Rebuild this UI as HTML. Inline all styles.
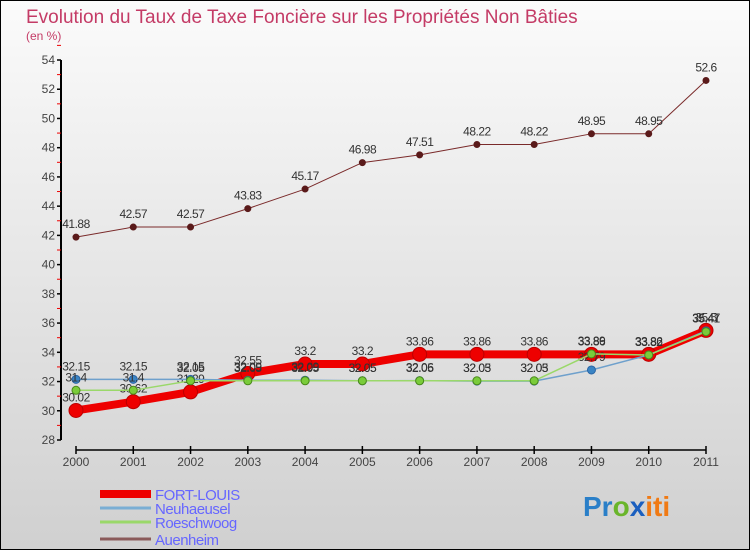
<!DOCTYPE html>
<html><head><meta charset="utf-8"><style>
html,body{margin:0;padding:0;}
body{width:750px;height:550px;overflow:hidden;font-family:"Liberation Sans",sans-serif;}
</style></head><body>
<svg id="chart" width="750" height="550" xmlns="http://www.w3.org/2000/svg">
<defs><linearGradient id="bg" x1="0" y1="0" x2="0" y2="1"><stop offset="0" stop-color="#fbfbfb"/><stop offset="1" stop-color="#d0d0d0"/></linearGradient></defs>
<rect x="0.5" y="0.5" width="749" height="549" fill="url(#bg)" stroke="#000"/>
<text x="26" y="23" font-size="19" fill="#c43b66">Evolution du Taux de Taxe Foncière sur les Propriétés Non Bâties</text>
<text x="26" y="40" font-size="12" fill="#c43b66">(en %)</text>
<g id="axes"></g><g id="series"></g><g id="legend"></g>
<text x="583" y="516" font-size="28" font-weight="bold"><tspan fill="#2a7fc8">Pr</tspan><tspan fill="#6ab52b">o</tspan><tspan fill="#1b5fbf">x</tspan><tspan fill="#f07a14">iti</tspan></text>
</svg>
<script>
const years=[2000,2001,2002,2003,2004,2005,2006,2007,2008,2009,2010,2011];
const yTicks=[28,30,32,34,36,38,40,42,44,46,48,50,52,54];
const fortLouis=[30.02,30.62,31.29,32.55,33.2,33.2,33.86,33.86,33.86,33.86,33.86,35.5];
const neuhaeusel=[32.15,32.15,32.15,32.09,32.09,32.05,32.06,32.03,32.03,32.79,33.82,35.47];
const roeschwoog=[31.4,31.4,32.05,32.05,32.05,32.05,32.05,32.05,32.05,33.89,33.82,35.41];
const auenheim=[41.88,42.57,42.57,43.83,45.17,46.98,47.51,48.22,48.22,48.95,48.95,52.6];
const seriesNames=["FORT-LOUIS","Neuhaeusel","Roeschwoog","Auenheim"];
const NS="http://www.w3.org/2000/svg";
function xs(i){return 76+i*(706-76)/(years.length-1);}
function ys(v){return 440-(v-28)*(380/26);}
function mk(t,a,p){const e=document.createElementNS(NS,t);for(const k in a)e.setAttribute(k,a[k]);if(p)p.appendChild(e);return e;}
const ax=document.getElementById('axes');
let yl=mk('line',{x1:61,y1:ys(54),x2:61,y2:ys(28),stroke:'#000','stroke-width':2},ax);


yTicks.forEach(v=>{
 mk('line',{x1:57,x2:61,y1:ys(v),y2:ys(v),stroke:'#000','stroke-width':1.5},ax);
 mk('line',{x1:57,x2:61,y1:ys(v+1),y2:ys(v+1),stroke:'#e00','stroke-width':1},ax);
 const t=mk('text',{x:55,y:ys(v)+4,'font-size':12,fill:'#444','text-anchor':'end'},ax);t.textContent=v;
 
 
});
let xl=mk('line',{x1:76,y1:450,x2:706,y2:450,stroke:'#000','stroke-width':1.5},ax);


years.forEach((y,i)=>{
 mk('line',{x1:xs(i),x2:xs(i),y1:446,y2:454,stroke:'#000','stroke-width':1.5},ax);
 const t=mk('text',{x:xs(i),y:466,'font-size':12,fill:'#444','text-anchor':'middle'},ax);t.textContent=y;
 
 
});
const sg=document.getElementById('series');
function draw(vals,color,w,r,fill,stroke,name){
 const g=mk('g',{},sg);
 
 
 mk('polyline',{points:vals.map((v,i)=>xs(i)+','+ys(v)).join(' '),fill:'none',stroke:color,'stroke-width':w,'stroke-linejoin':'round'},g);
 vals.forEach((v,i)=>{
  const c=mk('circle',{cx:xs(i),cy:ys(v),r:r,fill:fill,stroke:stroke,'stroke-width':1},g);
  
  
  const t=mk('text',{x:xs(i),y:ys(v)-9,'font-size':12,fill:'#333','text-anchor':'middle','letter-spacing':'-0.5'},g);t.textContent=v;
 });
}
draw(auenheim,'#7a2a2a',1,3,'#5a1a1a','#5a1a1a','series-auenheim');
draw(fortLouis,'#ee0000',8,7,'#ee0000','#b00','series-fort-louis');
draw(neuhaeusel,'#6ea0cc',1.5,4,'#3a84c4','#2a64a4','series-neuhaeusel');
draw(roeschwoog,'#9ad86a',1.5,4,'#7acc3a','#4a8a1a','series-roeschwoog');
const lg=document.getElementById('legend');
const lc=['#ee0000','#7aaed4','#9ad86a','#8a5a5a'],lw=[8,3,3,3],ly=[494,508,522,539];
seriesNames.forEach((n,i)=>{
 const g=mk('g',{},lg);
 
 
 mk('line',{x1:100,x2:151,y1:ly[i],y2:ly[i],stroke:lc[i],'stroke-width':lw[i]},g);
 const t=mk('text',{x:155,y:ly[i]+6,'font-size':15,fill:'#6666ff','letter-spacing':'-0.5'},g);t.textContent=n;
});
</script>
</body></html>
